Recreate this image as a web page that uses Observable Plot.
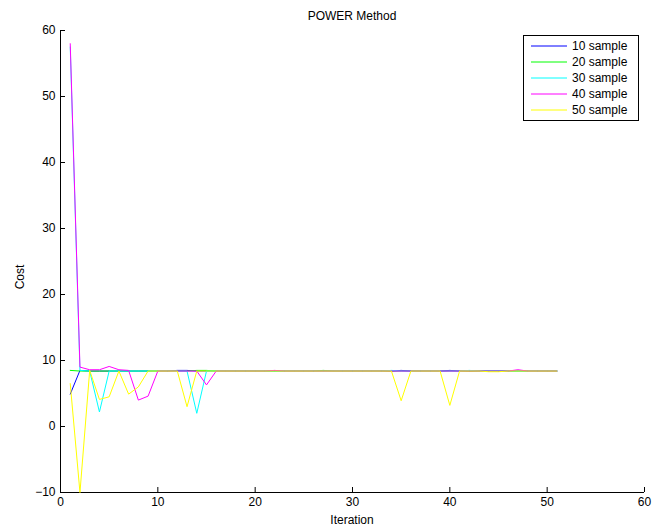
<!DOCTYPE html>
<html>
<head>
<meta charset="utf-8">
<script src="https://cdn.jsdelivr.net/npm/d3@7"></script>
<script src="https://cdn.jsdelivr.net/npm/@observablehq/plot@0.6"></script>
<style>
  html, body { margin: 0; padding: 0; background: #fff; }
  #chart { width: 664px; height: 527px; }
  svg { font-family: "Liberation Sans", Arial, Helvetica, sans-serif; }
</style>
</head>
<body>
<div id="chart"></div>
<script>
const title = "POWER Method";
const xLabel = "Iteration";
const yLabel = "Cost";
const xDomain = [0, 60];
const yDomain = [-10, 60];
const xTicks = [0, 10, 20, 30, 40, 50, 60];
const yTicks = [-10, 0, 10, 20, 30, 40, 50, 60];

const seriesNames = ["10 sample", "20 sample", "30 sample", "40 sample", "50 sample"];
const seriesColors = ["#0000ff", "#00ff00", "#00ffff", "#ff00ff", "#ffff00"];

const iterations = d3.range(1, 52);

// 10 sample (blue)
const s10 = [4.9, 8.5, 8.4, 8.4, 8.4, 8.4, 8.4, 8.4, 8.4, 8.4,
             8.4, 8.5, 8.5, 8.4, 8.4, 8.4, 8.4, 8.4, 8.4, 8.4,
             8.4, 8.4, 8.4, 8.4, 8.4, 8.4, 8.4, 8.4, 8.4, 8.4,
             8.4, 8.4, 8.4, 8.4, 8.5, 8.4, 8.4, 8.4, 8.4, 8.5,
             8.4, 8.4, 8.4, 8.4, 8.4, 8.4, 8.4, 8.4, 8.4, 8.4, 8.4];
// 20 sample (green)
const s20 = [8.5, 8.4, 8.4, 8.4, 8.4, 8.4, 8.4, 8.4, 8.4, 8.4,
             8.4, 8.4, 8.4, 8.5, 8.5, 8.4, 8.4, 8.4, 8.4, 8.4,
             8.4, 8.4, 8.4, 8.4, 8.4, 8.4, 8.5, 8.4, 8.4, 8.4,
             8.4, 8.4, 8.4, 8.4, 8.4, 8.4, 8.4, 8.4, 8.4, 8.4,
             8.4, 8.4, 8.4, 8.4, 8.4, 8.4, 8.4, 8.4, 8.4, 8.4, 8.4];
// 30 sample (cyan)
const s30 = [57.5, 8.5, 8.4, 2.2, 8.4, 8.4, 8.4, 8.4, 8.4, 8.4,
             8.4, 8.4, 8.4, 2.0, 8.4, 8.4, 8.4, 8.4, 8.4, 8.4,
             8.4, 8.4, 8.4, 8.4, 8.4, 8.4, 8.4, 8.4, 8.4, 8.4,
             8.4, 8.4, 8.4, 8.5, 8.4, 8.4, 8.4, 8.4, 8.4, 8.4,
             8.4, 8.5, 8.4, 8.4, 8.4, 8.4, 8.4, 8.4, 8.4, 8.4, 8.4];
// 40 sample (magenta)
const s40 = [58.0, 9.0, 8.6, 8.6, 9.1, 8.6, 8.5, 4.0, 4.6, 8.4,
             8.4, 8.4, 8.4, 8.4, 6.3, 8.4, 8.4, 8.4, 8.4, 8.4,
             8.4, 8.5, 8.4, 8.4, 8.4, 8.4, 8.4, 8.4, 8.4, 8.4,
             8.4, 8.4, 8.4, 8.4, 8.4, 8.4, 8.4, 8.4, 8.4, 8.4,
             8.4, 8.4, 8.4, 8.4, 8.4, 8.4, 8.6, 8.4, 8.4, 8.4, 8.4];
// 50 sample (yellow)
const s50 = [6.5, -10.0, 8.5, 4.1, 4.5, 8.4, 4.9, 6.0, 8.4, 8.4,
             8.4, 8.4, 3.0, 8.4, 8.4, 8.4, 8.4, 8.4, 8.4, 8.4,
             8.4, 8.4, 8.4, 8.4, 8.4, 8.4, 8.4, 8.4, 8.4, 8.4,
             8.4, 8.4, 8.4, 8.4, 3.9, 8.4, 8.4, 8.4, 8.4, 3.2,
             8.4, 8.4, 8.4, 8.3, 8.3, 8.4, 8.4, 8.4, 8.4, 8.4, 8.4];

const allSeries = [s10, s20, s30, s40, s50];
const data = allSeries.flatMap((vals, si) =>
  vals.map((v, i) => ({iteration: iterations[i], cost: v, series: seriesNames[si]}))
);

const W = 664, H = 527;
const mL = 60, mR = 20, mT = 30, mB = 35;

const chart = Plot.plot({
  width: W,
  height: H,
  marginLeft: mL,
  marginRight: mR,
  marginTop: mT,
  marginBottom: mB,
  style: {fontSize: "12px", fontFamily: "'Liberation Sans', Arial, Helvetica, sans-serif", color: "#000", background: "#fff"},
  x: {domain: xDomain, ticks: xTicks, label: null},
  y: {domain: yDomain, ticks: yTicks, label: null},
  color: {domain: seriesNames, range: seriesColors},
  marks: [
    Plot.axisX(xTicks, {anchor: "bottom", tickSize: -5, tickPadding: 10, label: null, stroke: "#000", fill: "#000"}),
    Plot.axisY(yTicks, {anchor: "left", tickSize: -5, tickPadding: 10, label: null, stroke: "#000", fill: "#000", tickFormat: d => d < 0 ? "\u2212" + Math.abs(d) : String(d)}),
    Plot.ruleX([xDomain[0]], {stroke: "#000", strokeWidth: 1}),
    Plot.ruleY([yDomain[0]], {stroke: "#000", strokeWidth: 1}),
    Plot.line(data, {x: "iteration", y: "cost", z: "series", stroke: "series", strokeWidth: 1})
  ]
});

const svg = d3.select(chart);
const plotCenterX = mL + (W - mL - mR) / 2;

svg.append("text")
  .attr("x", plotCenterX).attr("y", 20)
  .attr("text-anchor", "middle")
  .attr("font-size", 12).attr("fill", "#000")
  .text(title);

svg.append("text")
  .attr("x", plotCenterX).attr("y", 524)
  .attr("text-anchor", "middle")
  .attr("font-size", 12).attr("fill", "#000")
  .text(xLabel);

svg.append("text")
  .attr("transform", "translate(24,277) rotate(-90)")
  .attr("text-anchor", "middle")
  .attr("font-size", 12).attr("fill", "#000")
  .text(yLabel);

// legend
const lg = svg.append("g").attr("class", "legend");
lg.append("rect")
  .attr("x", 523.5).attr("y", 35.5).attr("width", 115).attr("height", 85)
  .attr("fill", "#fff").attr("stroke", "#000").attr("stroke-width", 1);
seriesNames.forEach((name, i) => {
  const y = 46 + i * 16;
  lg.append("line")
    .attr("x1", 531).attr("x2", 567).attr("y1", y).attr("y2", y)
    .attr("stroke", seriesColors[i]).attr("stroke-width", 1);
  lg.append("text")
    .attr("x", 572).attr("y", y + 4)
    .attr("text-anchor", "start")
    .attr("font-size", 12).attr("fill", "#000")
    .text(name);
});

document.getElementById("chart").appendChild(chart);
</script>
</body>
</html>
